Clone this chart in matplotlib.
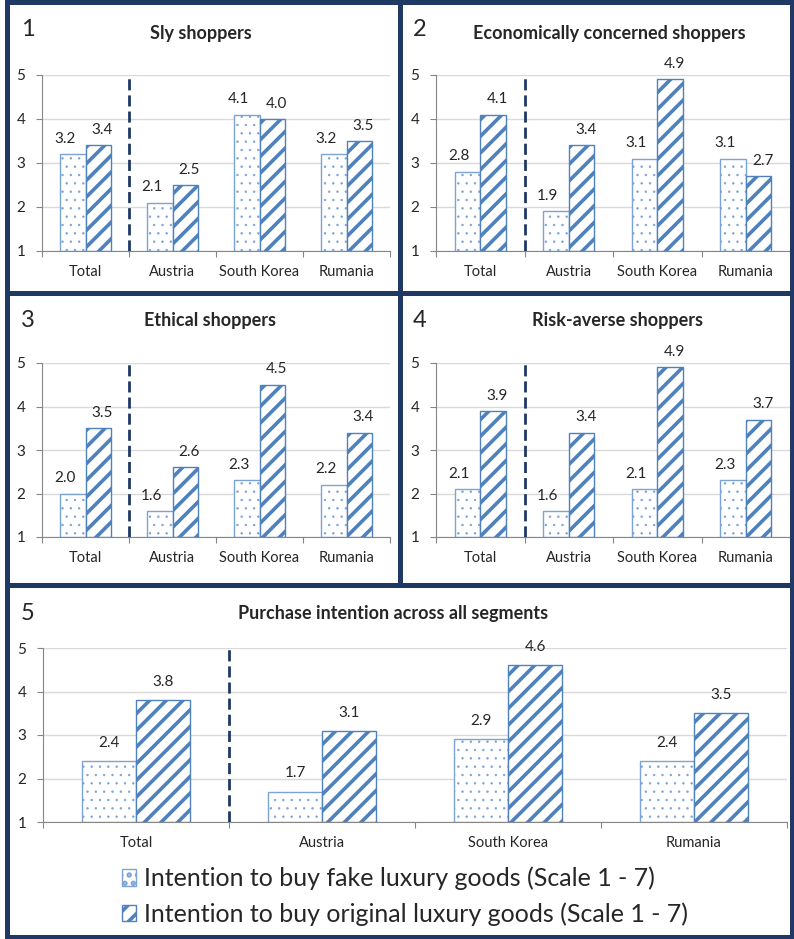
import matplotlib
matplotlib.use("Agg")
import matplotlib.pyplot as plt
import numpy as np

plt.rcParams['font.family'] = ['Lato', 'DejaVu Sans']
plt.rcParams['hatch.linewidth'] = 2.6

W, H = 794, 939

categories = ["Total", "Austria", "South Korea", "Rumania"]
titles = ["Sly shoppers", "Economically concerned shoppers", "Ethical shoppers",
          "Risk-averse shoppers", "Purchase intention across all segments"]
fake_sly = [3.2, 2.1, 4.1, 3.2]
orig_sly = [3.4, 2.5, 4.0, 3.5]
fake_eco = [2.8, 1.9, 3.1, 3.1]
orig_eco = [4.1, 3.4, 4.9, 2.7]
fake_eth = [2.0, 1.6, 2.3, 2.2]
orig_eth = [3.5, 2.6, 4.5, 3.4]
fake_risk = [2.1, 1.6, 2.1, 2.3]
orig_risk = [3.9, 3.4, 4.9, 3.7]
fake_all = [2.4, 1.7, 2.9, 2.4]
orig_all = [3.8, 3.1, 4.6, 3.5]
legend_labels = ["Intention to buy fake luxury goods (Scale 1 - 7)",
                 "Intention to buy original luxury goods (Scale 1 - 7)"]

NAVY = "#1F3864"
BLUE = "#4F81BD"
LIGHT = "#7BA3D6"
TXT = "#262626"


def fx(x):
    return x / W


def fy(y):
    return 1 - y / H


def make_axes(fig, left, right, top, bottom):
    return fig.add_axes([fx(left), fy(bottom), fx(right - left), (bottom - top) / H])


def hatch_lw(bars, lw):
    for p in bars:
        if hasattr(p, "set_hatch_linewidth"):
            p.set_hatch_linewidth(lw)


def draw_panel(ax, fake, orig, big=False):
    x = np.arange(len(categories))
    bw = 0.29
    with plt.rc_context({'hatch.linewidth': 0.5}):
        b1 = ax.bar(x - bw / 2, np.array(fake) - 1, bw, bottom=1, color="white",
                    edgecolor=LIGHT, hatch="..", linewidth=1.0, zorder=2)
    hatch_lw(b1, 0.5)
    b2 = ax.bar(x + bw / 2, np.array(orig) - 1, bw, bottom=1, color="white",
                edgecolor=BLUE, hatch="//", linewidth=1.0, zorder=2)
    hatch_lw(b2, 2.6)
    dx1, dx2, dy = (0, 0, 8) if big else (-6, 3, 6)
    for i in range(len(x)):
        ax.annotate(f"{fake[i]:.1f}", (x[i] - bw / 2, fake[i]), xytext=(dx1, dy),
                    textcoords="offset points", ha="center", va="bottom",
                    fontsize=11, color=TXT, annotation_clip=False)
        ax.annotate(f"{orig[i]:.1f}", (x[i] + bw / 2, orig[i]), xytext=(dx2, dy),
                    textcoords="offset points", ha="center", va="bottom",
                    fontsize=11, color=TXT, annotation_clip=False)
    ax.axvline(0.5, color=NAVY, lw=2, linestyle=(0, (4, 1.8)), zorder=3)
    ax.set_xlim(-0.5, 3.5)
    ax.set_ylim(1, 5)
    ax.set_yticks([1, 2, 3, 4, 5])
    ax.yaxis.grid(True, color="#D9D9D9", lw=1)
    ax.set_axisbelow(True)
    ax.set_xticks([-0.5, 0.5, 1.5, 2.5, 3.5])
    ax.set_xticklabels([])
    ax.set_xticks(x, minor=True)
    ax.set_xticklabels(categories, minor=True)
    ax.tick_params(axis="x", which="major", length=4.5, color="#868686", direction="out")
    ax.tick_params(axis="x", which="minor", length=0, pad=10, labelsize=10.5, labelcolor=TXT)
    ax.tick_params(axis="y", length=4, color="#868686", pad=8, labelsize=11, labelcolor=TXT)
    for s in ["top", "right"]:
        ax.spines[s].set_visible(False)
    for s in ["left", "bottom"]:
        ax.spines[s].set_color("#868686")
    return b1, b2


fig = plt.figure(figsize=(W / 100, H / 100), dpi=100)

ax1 = make_axes(fig, 42, 390, 75, 251)
ax2 = make_axes(fig, 436, 790, 75, 251)
ax3 = make_axes(fig, 42, 390, 363, 537)
ax4 = make_axes(fig, 436, 790, 363, 537)
ax5 = make_axes(fig, 43, 787, 648, 822)

draw_panel(ax1, fake_sly, orig_sly)
draw_panel(ax2, fake_eco, orig_eco)
draw_panel(ax3, fake_eth, orig_eth)
draw_panel(ax4, fake_risk, orig_risk)
b1, b2 = draw_panel(ax5, fake_all, orig_all, big=True)

# panel numbers and titles
nums = [("1", 21, 36), ("2", 413, 36), ("3", 21, 327), ("4", 413, 327), ("5", 21, 620)]
for n, x, y in nums:
    fig.text(fx(x), fy(y), n, fontsize=17, color=TXT, va="baseline", ha="left")
title_pos = [(201, 39), (609, 39), (210, 326), (617, 326), (393, 619)]
for t, (x, y) in zip(titles, title_pos):
    fig.text(fx(x), fy(y), t, fontsize=13, fontweight="bold", color=TXT,
             va="baseline", ha="center")

leg = ax5.legend([b1, b2], legend_labels, loc="upper left",
                 bbox_to_anchor=((122 - 43) / (787 - 43), -0.255),
                 frameon=False, fontsize=18, handlelength=0.55, handleheight=0.65,
                 handletextpad=0.35, labelspacing=0.49, borderaxespad=0,
                 borderpad=0)
for t in leg.get_texts():
    t.set_color(TXT)

# panel borders
lw = 3.6
fig.add_artist(plt.Rectangle((fx(7), fy(937)), fx(785), (937 - 2) / H, fill=False,
                             edgecolor=NAVY, lw=lw, transform=fig.transFigure))
fig.add_artist(plt.Line2D([fx(7), fx(792)], [fy(293), fy(293)], color=NAVY, lw=lw))
fig.add_artist(plt.Line2D([fx(7), fx(792)], [fy(585), fy(585)], color=NAVY, lw=lw))
fig.add_artist(plt.Line2D([fx(400), fx(400)], [fy(2), fy(585)], color=NAVY, lw=lw))

fig.savefig("out.png", dpi=100)
